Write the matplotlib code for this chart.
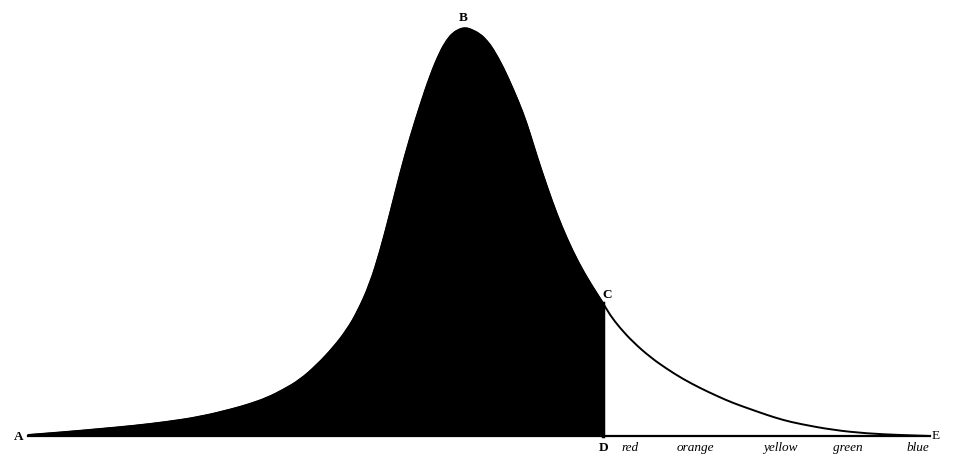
import numpy as np
import matplotlib.pyplot as plt
from matplotlib.path import Path
from matplotlib.patches import PathPatch, Rectangle

# curve: horizontal position and height above the base line
pos = [28, 67, 100, 133, 167, 200, 233, 250, 267, 283, 300, 317, 333, 347, 358,
       370, 380, 390, 400, 410, 420, 430, 440, 447, 453, 460, 465, 470, 480, 487,
       493, 503, 513, 523, 530, 537, 547, 557, 567, 578, 590, 603,
       610, 620, 633, 650, 667, 683, 700, 717, 733, 750, 767, 783, 800,
       833, 867, 900, 930]
height = [1, 4, 7, 10, 14, 19, 27, 32, 38, 46, 56, 71, 88, 106, 125,
          152, 184, 222, 262, 298, 330, 360, 384, 396, 403, 407, 408, 407, 402, 395,
          387, 369, 347, 323, 302, 279, 249, 221, 197, 174, 153, 133,
          121, 108, 94, 79, 67, 57, 48, 40, 33, 27, 21, 16, 12,
          6, 2.5, 1, 0]

cut = 603  # point D
point_labels = ['A', 'B', 'C', 'D', 'E']
colour_names = ['red', 'orange', 'yellow', 'green', 'blue']
colour_pos = [630, 695, 780, 848, 918]

pos = np.array(pos, dtype=float)
height = np.array(height, dtype=float)


def smooth_path(x, y, close=False):
    # quadratic beziers through the midpoints, read points as control points
    verts = [(x[0], y[0])]
    codes = [Path.MOVETO]
    for i in range(1, len(x) - 1):
        verts += [(x[i], y[i]), ((x[i] + x[i + 1]) / 2, (y[i] + y[i + 1]) / 2)]
        codes += [Path.CURVE3, Path.CURVE3]
    verts.append((x[-1], y[-1]))
    codes.append(Path.LINETO)
    if close:
        verts += [(x[-1], 0), (x[0], 0), (x[0], y[0])]
        codes += [Path.LINETO, Path.LINETO, Path.CLOSEPOLY]
    return Path(verts, codes)


fig = plt.figure(figsize=(9.6, 4.64), dpi=100)
ax = fig.add_axes([0, 0, 1, 1])
ax.set_xlim(0, 960)
ax.set_ylim(-27, 437)
ax.axis('off')

h_cut = height[pos == cut][0]

fill = PathPatch(smooth_path(pos, height, close=True), facecolor='black',
                 edgecolor='black', lw=1.0)
ax.add_patch(fill)
fill.set_clip_path(Rectangle((0, -30), cut, 500, transform=ax.transData))

line = PathPatch(smooth_path(pos, height), facecolor='none', edgecolor='black', lw=1.4)
ax.add_patch(line)
ax.plot([cut, cut], [0, h_cut], color='black', lw=2.5)
ax.plot([pos[0], pos[-1]], [0, 0], color='black', lw=1.6)

serif = 'Liberation Serif'
peak = np.argmax(height)
ax.text(pos[0] - 4, 0, point_labels[0], ha='right', va='center',
        fontsize=9.5, fontweight='bold', family=serif)
ax.text(463, height[peak] + 5, point_labels[1], ha='center', va='bottom',
        fontsize=9.5, fontweight='bold', family=serif)
ax.text(cut - 1, h_cut + 3, point_labels[2], ha='left', va='bottom',
        fontsize=9.5, fontweight='bold', family=serif)
ax.text(cut + 1, -5, point_labels[3], ha='center', va='top',
        fontsize=9.5, fontweight='bold', family=serif)
ax.text(pos[-1] + 2, 1, point_labels[4], ha='left', va='center',
        fontsize=9.5, family=serif)

for name, x in zip(colour_names, colour_pos):
    ax.text(x, -5, name, ha='center', va='top', fontsize=9.5,
            style='italic', family=serif)

fig.savefig('out.png', dpi=100)
